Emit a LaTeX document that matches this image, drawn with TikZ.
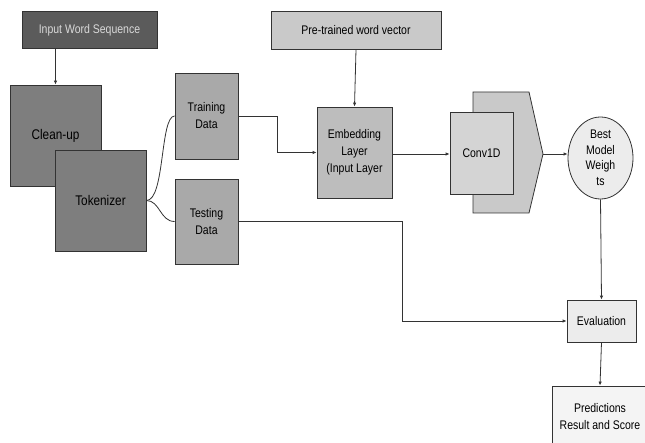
\documentclass[tikz,border=0pt]{standalone}
\usepackage{fontspec}
\setmainfont{Liberation Sans}[FakeStretch=0.84]
\usetikzlibrary{arrows.meta,shapes.geometric}

\definecolor{boxdark}{HTML}{5B5B5B}
\definecolor{boxmid}{HTML}{7E7E7E}
\definecolor{boxdata}{HTML}{A9A9A9}
\definecolor{boxlight}{HTML}{C9C9C9}
\definecolor{boxemb}{HTML}{BDBDBD}
\definecolor{boxpale}{HTML}{ECECEC}
\definecolor{edge}{HTML}{333333}

\begin{document}
\begin{tikzpicture}[x=1pt,y=-1pt,
  block/.style={draw=edge,line width=0.8pt,align=center,inner sep=1pt,
    font=\fontsize{12.5}{17}\selectfont},
  arr/.style={draw=edge,line width=0.8pt,-{Latex[length=4pt,width=3.5pt]}},
  link/.style={draw=edge,line width=0.8pt}]

\useasboundingbox (0,0) rectangle (645,443);

% input side
\node at (89.5,30) [block,fill=boxdark,text=white!85!black,minimum width=135pt,minimum height=37pt] (inp) {Input Word Sequence};
\node at (55.5,135.5) [block,fill=boxmid,minimum width=91pt,minimum height=101pt,font=\fontsize{14}{17}\selectfont] (clean) {Clean-up};
\node at (100.5,200.5) [block,fill=boxmid,minimum width=91pt,minimum height=101pt,font=\fontsize{14}{17}\selectfont] (tok) {Tokenizer};
\node at (206.5,116) [block,fill=boxdata,minimum width=63pt,minimum height=86pt] (train) {Training\\Data};
\node at (206.5,221.5) [block,fill=boxdata,minimum width=63pt,minimum height=85pt] (test) {Testing\\Data};

% model
\node at (356,30) [block,fill=boxlight,minimum width=170pt,minimum height=38pt] (pre) {Pre-trained word vector};
\node at (354.5,152.5) [block,fill=boxemb,minimum width=75pt,minimum height=91pt] (emb) {Embedding\\Layer\\(Input Layer};
\draw[edge,line width=0.8pt,fill=boxlight] (473,92) -- (529,92) -- (543,154) -- (529,213) -- (473,213) -- cycle;
\coordinate (tip) at (543,154);
\node at (481.5,153) [block,fill=boxlight!80!white,minimum width=63pt,minimum height=82pt] (conv) {Conv1D};
\node at (600.5,158) [block,ellipse,fill=boxpale,minimum width=65pt,minimum height=82pt,inner sep=0pt,font=\fontsize{12.5}{15.5}\selectfont] (best) {Best\\Model\\Weigh\\ts};

% output side
\node at (601.5,321) [block,fill=boxpale,minimum width=69pt,minimum height=42pt] (eval) {Evaluation};
\node at (600,417) [block,fill=boxpale!60!white,minimum width=96pt,minimum height=62pt] (pred) {Predictions\\Result and Score};

% connectors
\draw[arr] (inp.south -| clean.north) -- (clean.north);
\draw[link] (tok.east) .. controls (165,200.5) and (160,116) .. (train.west);
\draw[link] (tok.east) .. controls (160,200.5) and (160,221.5) .. (test.west);
\draw[arr] (train.east) -- ++(39,0) |- (emb.west);
\draw[arr] (pre.south) -- (emb.north);
\draw[arr] (emb.east |- tip) -- (conv.west |- tip);
\draw[arr] (tip) -- (best.west |- tip);
\draw[arr] (test.east) -- ++(164,0) |- (eval.west);
\draw[arr] (best.south) -- (eval.north);
\draw[arr] (eval.south) -- (pred.north);

\end{tikzpicture}
\end{document}
